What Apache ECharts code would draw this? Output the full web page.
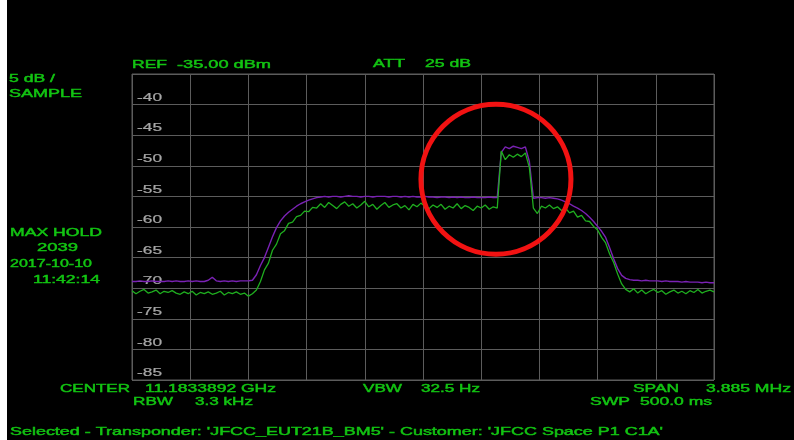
<!DOCTYPE html>
<html><head><meta charset="utf-8">
<script src="https://cdn.jsdelivr.net/npm/echarts@6/dist/echarts.min.js"></script>
<style>html,body{margin:0;padding:0;background:#000;} #c{width:794px;height:440px;}</style>
</head><body><div id="c"></div>
<script>
// ---- Data ----
const spanMHz = 3.885;
const xMinMHz = -1.9425, xMaxMHz = 1.9425, xDivMHz = 0.3885;
const yMin = -85, yMax = -35, yDiv = 5;
const yTicks = [-40, -45, -50, -55, -60, -65, -70, -75, -80, -85];
const sweepStartMHz = -1.9425;
const sweepPointCount = 146;

const purpleMaxHold = [
-68.9,-68.9,-68.8,-68.9,-68.9,-68.8,-68.9,-68.9,-68.9,-68.8,
-68.9,-68.8,-68.9,-68.9,-68.8,-68.9,-68.8,-68.9,-68.9,-68.7,
-68.2,-68.8,-68.9,-68.8,-68.9,-68.8,-68.9,-68.8,-68.8,-68.8,
-68.7,-67.8,-66.3,-65.0,-63.3,-61.6,-60.1,-59.0,-58.2,-57.6,-57.1,-56.6,-56.2,-55.9,-55.6,-55.4,-55.2,-55.1,
-55.0,-55.1,-55.0,-55.0,-55.1,-55.0,-54.9,-55.0,-55.0,-55.1,
-55.0,-55.0,-55.1,-55.0,-55.0,-55.0,-55.1,-55.0,-55.0,-55.1,
-55.0,-55.1,-55.0,-55.1,-55.1,-55.0,-55.1,-55.1,-55.2,-55.1,
-55.1,-55.2,-55.1,-55.2,-55.1,-55.2,-55.2,-55.1,-55.2,-55.2,
-55.2,-55.1,-55.2,
-55.2,-47.8,-46.9,-47.2,-46.8,-47.0,-47.2,-46.9,-49.3,-55.3,
-55.2,-55.2,-55.3,-55.2,-55.3,
-55.4,-55.6,-55.9,-56.2,-56.6,-56.9,-57.3,-57.8,-58.4,-59.1,-59.9,-60.7,-61.7,-63.4,-65.2,-66.8,-67.9,-68.4,-68.6,
-68.7,-68.7,-68.8,-68.7,-68.8,-68.8,-68.8,-68.9,-68.8,-68.9,-68.9,-68.9,-69.0,-68.9,-69.0,-69.0,-69.0,-69.1,-69.0,-69.1,-69.1
];

const greenTrace = [
-70.4,-70.9,-70.5,-70.2,-70.8,-70.6,-70.3,-70.9,-70.5,-70.7,
-70.4,-70.8,-71.0,-70.6,-70.9,-70.5,-71.1,-70.7,-70.9,-70.6,
-71.0,-70.8,-70.5,-71.1,-70.7,-70.9,-70.6,-71.0,-70.8,-71.3,
-70.9,-70.3,-68.9,-67.0,-65.9,-63.8,-62.8,-61.1,-60.6,-59.4,-59.2,-58.3,-58.1,-57.4,-57.5,-56.8,-56.9,
-56.2,-56.8,-56.0,-56.5,-57.0,-56.3,-55.9,-56.6,-56.2,-56.9,
-56.4,-55.8,-56.7,-56.3,-57.1,-56.5,-56.0,-56.8,-56.4,-56.2,
-56.9,-56.5,-57.2,-56.3,-56.7,-56.1,-56.6,-57.0,-56.4,-56.8,
-56.3,-57.1,-56.6,-56.9,-56.2,-57.0,-56.5,-56.8,-57.3,-56.6,
-56.9,-56.4,-57.1,-56.7,
-56.9,-47.6,-49.0,-48.2,-48.6,-48.1,-48.5,-47.9,-50.3,-56.9,
-57.8,-56.6,-56.9,-56.4,-57.0,
-56.7,-57.3,-56.9,-57.7,-57.4,-58.4,-58.1,-59.0,-59.1,-59.9,-60.5,-61.7,-62.6,-64.4,-65.8,-67.7,-69.3,-70.2,
-70.6,-70.1,-70.8,-70.3,-70.9,-70.5,-70.2,-70.7,-70.4,-71.0,-70.6,-70.3,-70.8,-70.5,-70.9,-70.4,-70.7,-70.2,-70.8,-70.5,-70.3,-70.6
];

const annotationCenter = [0.487, -52.2]; // MHz offset, dBm

const headerTexts = ['REF', '-35.00 dBm', 'ATT', '25 dB'];
const sideTexts = ['5 dB /', 'SAMPLE', 'MAX HOLD', '2039', '2017-10-10', '11:42:14'];
const footerTexts = ['CENTER', '11.1833892 GHz', 'VBW', '32.5 Hz', 'SPAN', '3.885 MHz',
                     'RBW', '3.3 kHz', 'SWP', '500.0 ms'];
const selectionText = "Selected - Transponder: 'JFCC_EUT21B_BM5' - Customer: 'JFCC Space P1 C1A'";

// ---- Layout ----
const GREEN_TXT = '#12c312';
const GRID_COL = '#5c5c5c';
const FONT = '"Liberation Sans", Arial, sans-serif';
const sweepStepMHz = spanMHz / (sweepPointCount - 1);

const chart = echarts.init(document.getElementById('c'), null, {renderer: 'canvas'});
const mctx = document.createElement('canvas').getContext('2d');
function measure(text, size) { mctx.font = size + 'px ' + FONT; return mctx.measureText(text).width; }
function label(text, x, y, w, size, color, z, strokeW) {
  return { type: 'text', x: x, y: y, scaleX: w / measure(text, size), z: z || 10,
    style: { text: text, fill: color, stroke: color, lineWidth: strokeW == null ? 0.45 : strokeW,
      font: size + 'px ' + FONT, align: 'left', verticalAlign: 'middle' } };
}

chart.setOption({
  backgroundColor: '#000',
  animation: false,
  grid: { left: 132, top: 74, width: 582, height: 306, show: true, borderColor: GRID_COL, borderWidth: 1 },
  xAxis: { type: 'value', min: xMinMHz, max: xMaxMHz, interval: xDivMHz,
    axisLine: {show: false}, axisTick: {show: false}, axisLabel: {show: false},
    splitLine: { show: true, lineStyle: { color: GRID_COL, width: 1 } } },
  yAxis: { type: 'value', min: yMin, max: yMax, interval: yDiv,
    axisLine: {show: false}, axisTick: {show: false}, axisLabel: {show: false},
    splitLine: { show: true, lineStyle: { color: GRID_COL, width: 1 } } },
  series: [
    { name: 'MAX HOLD', type: 'line', showSymbol: false, z: 3,
      lineStyle: { color: '#7a22b4', width: 1.4 },
      data: purpleMaxHold.map((v, i) => [sweepStartMHz + i * sweepStepMHz, v]) },
    { name: 'Trace', type: 'line', showSymbol: false, z: 4,
      lineStyle: { color: '#1fae1f', width: 1.3 },
      data: greenTrace.map((v, i) => [sweepStartMHz + i * sweepStepMHz, v]) }
  ]
});

const g = [];
g.push({ type: 'rect', shape: {x: 0, y: 0, width: 7, height: 440}, style: {fill: '#fff'}, z: 20 });
// y tick labels
const tickW = 25;
yTicks.forEach(v => {
  const p = chart.convertToPixel({gridIndex: 0}, [xMinMHz, v]);
  const t = String(v);
  g.push(label(t, p[0] + 5, p[1] - 6.5, tickW * measure(t, 10) / measure('-40', 10), 10, '#a6a6a6', 1, 0.2));
});
// header
g.push(label(headerTexts[0], 132, 65, 35, 11, GREEN_TXT));
g.push(label(headerTexts[1], 177, 65, 94, 11, GREEN_TXT));
g.push(label(headerTexts[2], 373, 64, 32, 11, GREEN_TXT));
g.push(label(headerTexts[3], 425, 64, 46, 11, GREEN_TXT));
// side
g.push(label(sideTexts[0], 9, 79, 46, 11, GREEN_TXT));
g.push(label(sideTexts[1], 9, 94, 73, 11, GREEN_TXT));
g.push(label(sideTexts[2], 10, 232.5, 92, 11, GREEN_TXT));
g.push(label(sideTexts[3], 37, 247.5, 41, 11, GREEN_TXT));
g.push(label(sideTexts[4], 10, 264, 82, 11, GREEN_TXT));
g.push(label(sideTexts[5], 33, 280, 67, 11, GREEN_TXT));
// footer
const fpos = [[60,389,70],[145,389,131],[363,389,39],[421,389,59],[633,389,46],[706,389,85],
              [133,401.5,40],[195,401.5,58],[590,401.5,40],[640,401.5,72]];
footerTexts.forEach((t, i) => g.push(label(t, fpos[i][0], fpos[i][1], fpos[i][2], 11, GREEN_TXT)));
g.push(label(selectionText, 10, 432, 653, 11, GREEN_TXT));
// annotation circle
const cc = chart.convertToPixel({gridIndex: 0}, annotationCenter);
g.push({ type: 'circle', shape: {cx: cc[0], cy: cc[1], r: 75}, z: 15,
  style: { fill: 'none', stroke: '#f21212', lineWidth: 5 } });

chart.setOption({ graphic: g });
</script>
</body></html>
